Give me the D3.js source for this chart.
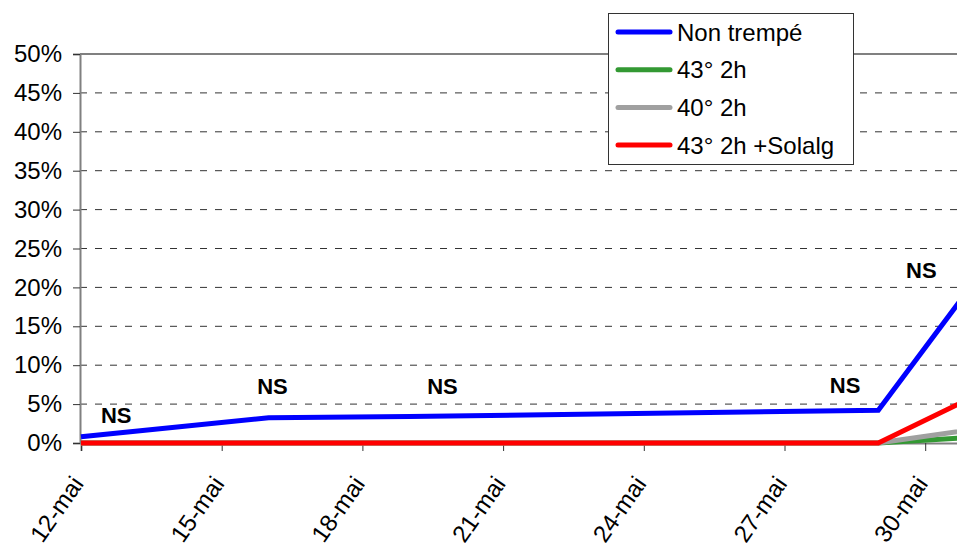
<!DOCTYPE html>
<html>
<head>
<meta charset="utf-8">
<script src="https://cdn.jsdelivr.net/npm/d3@7"></script>
<style>
  html, body { margin: 0; padding: 0; background: #fff; }
  svg { display: block; font-family: "Liberation Sans", Arial, sans-serif; }
</style>
</head>
<body>
<svg id="chart" width="957" height="546"></svg>
<script>
// ---- data ----
const dates = ["2009-05-12", "2009-05-16", "2009-05-19", "2009-05-29", "2009-06-01"];
const seriesNames = ["Non trempé", "43° 2h", "40° 2h", "43° 2h +Solalg"];
const nonTrempe = [0.8, 3.25, 3.4, 4.2, 28.4];
const t43 = [0, 0, 0, 0, 1.1];
const t40 = [0, 0, 0, 0, 2.6];
const t43Solalg = [0, 0, 0, 0, 8.8];
const seriesColors = ["#0000FF", "#339933", "#A0A0A0", "#FF0000"];
const yTicks = [0, 5, 10, 15, 20, 25, 30, 35, 40, 45, 50];
const xTickDates = ["2009-05-12", "2009-05-15", "2009-05-18", "2009-05-21", "2009-05-24", "2009-05-27", "2009-05-30"];
const monthNames = ["janv", "févr", "mars", "avr", "mai", "juin", "juil", "août", "sept", "oct", "nov", "déc"];
// "NS" annotations (date, value in %)
const nsDates = ["2009-05-12T18:00", "2009-05-16T02:00", "2009-05-19T17:00", "2009-05-28T07:00", "2009-05-29T22:00"];
const nsValues = [2.57, 6.3, 6.3, 6.4, 21.2];

// ---- setup ----
const parse = s => new Date(s + (s.length > 10 ? ":00Z" : "T00:00:00Z"));
const svg = d3.select("#chart");
const x0 = 81, dayPx = 46.9;
const xStart = parse("2009-05-12"), xEnd = parse("2009-06-03");
const x = d3.scaleUtc().domain([xStart, xEnd]).range([x0, x0 + 22 * dayPx]);
const y = d3.scaleLinear().domain([0, 50]).range([443, 54]);

// gridlines
svg.append("g").selectAll("line").data(yTicks.filter(t => t > 0 && t < 50)).join("line")
  .attr("x1", 80).attr("x2", 957)
  .attr("y1", d => y(d)).attr("y2", d => y(d))
  .attr("stroke", "#333").attr("stroke-width", 1)
  .attr("stroke-dasharray", "7,8");

// plot top border
svg.append("line").attr("x1", 80).attr("x2", 957).attr("y1", y(50)).attr("y2", y(50))
  .attr("stroke", "#808080").attr("stroke-width", 2);

// y axis
const yAxis = d3.axisLeft(y).tickValues(yTicks).tickSize(7).tickPadding(11).tickFormat(d => d + "%");
const gy = svg.append("g").attr("transform", "translate(80,0)").call(yAxis);
gy.select(".domain").attr("stroke", "#808080").attr("stroke-width", 2);
gy.selectAll(".tick line").attr("stroke", "#333");
gy.selectAll("text").attr("font-size", 24).attr("fill", "#000")
  .attr("font-family", "Liberation Sans, Arial, sans-serif");

// x axis
const fmt = d => d.getUTCDate() + "-" + monthNames[d.getUTCMonth()];
const xAxis = d3.axisBottom(x).tickValues(xTickDates.map(parse)).tickSize(8).tickFormat(fmt);
const gx = svg.append("g").attr("transform", "translate(0,443)").call(xAxis);
gx.select(".domain").attr("stroke", "#808080").attr("stroke-width", 2);
gx.selectAll(".tick line").attr("stroke", "#333");
gx.selectAll("text")
  .attr("font-size", 24).attr("fill", "#000")
  .attr("font-family", "Liberation Sans, Arial, sans-serif")
  .attr("text-anchor", "end")
  .attr("y", 0).attr("dy", 0)
  .attr("transform", "translate(3,41) rotate(-55)");

// lines
const allSeries = [nonTrempe, t43, t40, t43Solalg];
const line = d3.line().x((d, i) => x(parse(dates[i]))).y(d => y(d));
const plot = svg.append("g");
allSeries.forEach((vals, k) => {
  plot.append("path").datum(vals)
    .attr("d", line)
    .attr("fill", "none")
    .attr("stroke", seriesColors[k])
    .attr("stroke-width", 5)
    .attr("stroke-linejoin", "miter");
});

// NS annotations
svg.append("g").selectAll("text").data(nsValues).join("text")
  .attr("x", (d, i) => x(parse(nsDates[i])))
  .attr("y", d => y(d))
  .attr("text-anchor", "middle")
  .attr("font-size", 22).attr("font-weight", "bold").attr("fill", "#000")
  .text("NS");

// legend
const lg = svg.append("g");
lg.append("rect").attr("x", 608.5).attr("y", 13.5).attr("width", 245).attr("height", 151)
  .attr("fill", "#fff").attr("stroke", "#333").attr("stroke-width", 1);
seriesNames.forEach((name, k) => {
  const ly = 32 + k * 37.7;
  lg.append("line").attr("x1", 618).attr("x2", 670).attr("y1", ly).attr("y2", ly)
    .attr("stroke", seriesColors[k]).attr("stroke-width", 5).attr("stroke-linecap", "round");
  lg.append("text").attr("x", 677).attr("y", ly).attr("dy", "0.36em")
    .attr("font-size", 24).attr("fill", "#000").text(name);
});
</script>
</body>
</html>
